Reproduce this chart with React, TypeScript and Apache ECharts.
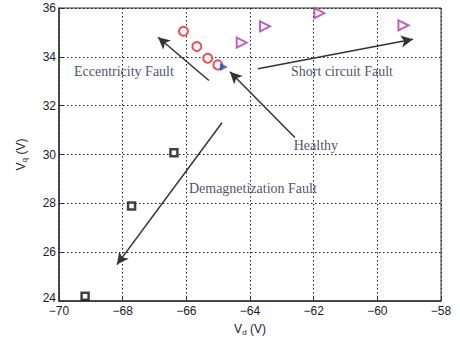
import React, { useEffect, useRef } from "react";
import * as echarts from "echarts";

const eccentricity: [number, number][] = [
  [-66.09, 35.05],
  [-65.67, 34.42],
  [-65.33, 33.94],
  [-65.01, 33.67],
];
const healthy: [number, number][] = [[-64.82, 33.58]];
const shortCircuit: [number, number][] = [
  [-64.26, 34.58],
  [-63.53, 35.25],
  [-61.82, 35.79],
  [-59.18, 35.29],
];
const demagnetization: [number, number][] = [
  [-69.18, 24.19],
  [-67.72, 27.89],
  [-66.39, 30.07],
];
const arrows: [number, number, number, number][] = [
  [-65.29, 33.03, -66.89, 34.8],
  [-63.75, 33.51, -58.88, 34.72],
  [-62.59, 30.7, -64.63, 33.39],
  [-64.88, 31.3, -68.18, 25.49],
];
const annotations: [number, number, string][] = [
  [-67.96, 33.39, "Eccentricity Fault"],
  [-61.11, 33.39, "Short circuit Fault"],
  [-61.93, 30.38, "Healthy"],
  [-63.91, 28.62, "Demagnetization Fault"],
];

const fmt = (v: number) => String(v).replace("-", "\u2212");

export default function App() {
  const ref = useRef<HTMLDivElement>(null);
  useEffect(() => {
    const chart = echarts.init(ref.current!, null, { renderer: "svg" });
    const gridLine = { show: true, lineStyle: { color: "#222", type: [1.5, 2.5] as any, width: 1 } };
    const axisLabelStyle = { color: "#1a1a2e", fontFamily: "Liberation Sans", fontSize: 12 };
    const nameRich = {
      a: { fontFamily: "Liberation Sans", fontSize: 12, color: "#1a1a2e" },
      s: { fontFamily: "Liberation Sans", fontSize: 8, color: "#1a1a2e", verticalAlign: "bottom", padding: [7, 0, 0, 0] },
    };
    chart.setOption({
      animation: false,
      backgroundColor: "#fff",
      grid: { left: 59, right: 19, top: 8, bottom: 34, show: true, borderColor: "#333", borderWidth: 1 },
      xAxis: {
        type: "value",
        min: -70,
        max: -58,
        interval: 2,
        axisLine: { show: true, onZero: false, lineStyle: { color: "#333", width: 1.5 } },
        axisTick: { show: true, inside: true, length: 4, lineStyle: { color: "#333" } },
        axisLabel: { ...axisLabelStyle, formatter: fmt, margin: 4 },
        splitLine: gridLine,
        name: "{a|V}{s|d}{a| (V)}",
        nameLocation: "middle",
        nameGap: 20,
        nameTextStyle: { rich: nameRich },
      },
      yAxis: {
        type: "value",
        min: 24,
        max: 36,
        interval: 2,
        axisLine: { show: true, onZero: false, lineStyle: { color: "#333", width: 1.5 } },
        axisTick: { show: true, inside: true, length: 4, lineStyle: { color: "#333" } },
        axisLabel: {
          ...axisLabelStyle,
          margin: 3,
          formatter: (v: number) => (v === 24 ? "{lo|24}" : String(v)),
          rich: { lo: { ...axisLabelStyle, padding: [0, 0, 7, 0] } },
        },
        splitLine: gridLine,
        name: "{a|V}{s|q}{a| (V)}",
        nameLocation: "middle",
        nameGap: 31,
        nameTextStyle: { rich: nameRich },
      },
      series: [
        {
          type: "scatter",
          data: eccentricity,
          symbol: "circle",
          symbolSize: 9,
          itemStyle: { color: "#fff", borderColor: "#e8202a", borderWidth: 2 },
        },
        {
          type: "scatter",
          data: shortCircuit,
          symbol: "triangle",
          symbolRotate: -90,
          symbolSize: 10,
          itemStyle: { color: "#fff", borderColor: "#b03ab0", borderWidth: 2 },
        },
        {
          type: "scatter",
          data: demagnetization,
          symbol: "rect",
          symbolSize: 7,
          itemStyle: { color: "#fff", borderColor: "#111", borderWidth: 2.5 },
        },
        {
          type: "scatter",
          data: healthy,
          symbol: "triangle",
          symbolRotate: -90,
          symbolSize: 8,
          itemStyle: { color: "#1f4fb8" },
          z: 3,
        },
        {
          type: "scatter",
          data: annotations.map((a) => ({ value: [a[0], a[1]], name: a[2] })),
          symbolSize: 0,
          silent: true,
          label: {
            show: true,
            position: "inside",
            formatter: (p: any) => p.name,
            fontFamily: "Liberation Serif",
            fontSize: 14,
            color: "#1c2340",
          },
          markLine: {
            silent: true,
            symbol: ["none", "arrow"],
            symbolSize: [9, 12],
            label: { show: false },
            lineStyle: { color: "#333", width: 1.5, type: "solid" },
            data: arrows.map((a) => [{ coord: [a[0], a[1]] }, { coord: [a[2], a[3]] }]),
          },
        },
      ],
    });
    return () => chart.dispose();
  }, []);
  return <div ref={ref} style={{ width: 460, height: 341, position: "absolute", left: 0, top: 0 }} />;
}
